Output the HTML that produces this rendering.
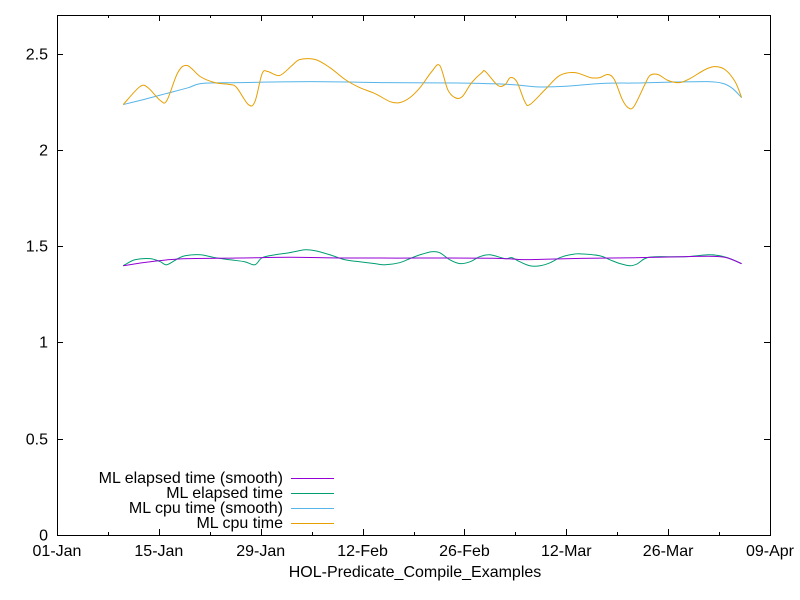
<!DOCTYPE html>
<html><head><meta charset="utf-8"><style>
body{margin:0;background:#fff}
svg{display:block;font-family:"Liberation Sans",Arial,sans-serif;font-size:16px}
</style></head><body>
<svg id="chart" width="800" height="600" viewBox="0 0 800 600" xmlns="http://www.w3.org/2000/svg">
<rect width="800" height="600" fill="#fff"/>
<g id="axes"></g>
<g id="series"></g>
<g id="legend"></g>
<text x="415" y="577" text-anchor="middle">HOL-Predicate_Compile_Examples</text>
</svg>
<script>
const yTicks=[0,0.5,1,1.5,2,2.5];
const yTickLabels=["0","0.5","1","1.5","2","2.5"];
const xTickDays=[0,14,28,42,56,70,84,98];
const xTickLabels=["01-Jan","15-Jan","29-Jan","12-Feb","26-Feb","12-Mar","26-Mar","09-Apr"];
const seriesNames=["ML elapsed time (smooth)","ML elapsed time","ML cpu time (smooth)","ML cpu time"];
const cpuDays=[9.1,11.4,12.5,14.2,15.1,16.6,17.9,19.7,21.7,23.8,24.7,26.3,27.2,28.2,29.0,30.6,32.3,33.4,35.5,37.5,39.6,41.6,43.7,45.8,47.1,48.5,49.9,51.5,52.6,53.7,54.7,55.7,57.0,58.4,58.9,60.6,61.6,62.3,63.2,64.3,65.0,67.1,69.1,71.2,73.3,74.6,75.7,76.6,77.7,78.5,79.3,80.8,81.5,82.6,84.0,85.6,87.0,89.1,90.4,91.8,93.2,94.1];
const cpuValues=[2.235,2.328,2.323,2.256,2.256,2.401,2.438,2.380,2.349,2.339,2.323,2.235,2.250,2.396,2.406,2.386,2.438,2.469,2.469,2.427,2.365,2.323,2.292,2.250,2.245,2.271,2.323,2.406,2.438,2.313,2.271,2.276,2.349,2.401,2.406,2.334,2.339,2.375,2.354,2.250,2.235,2.313,2.386,2.401,2.375,2.375,2.391,2.365,2.261,2.219,2.225,2.339,2.386,2.391,2.360,2.349,2.370,2.417,2.432,2.417,2.354,2.271];
const cpuSmoothDays=[9.1,12,15,18,20,25,35,45,55,62,66,70,75,80,85,89.5,91.5,92.8,94.1];
const cpuSmoothValues=[2.235,2.262,2.292,2.322,2.345,2.349,2.354,2.349,2.347,2.340,2.327,2.330,2.345,2.347,2.352,2.354,2.345,2.320,2.271];
const elDays=[9.1,10.7,12.8,14.2,15.1,16.6,17.6,19.7,21.7,23.8,25.8,27.2,28.2,30.0,32.0,34.1,35.5,37.5,39.6,41.6,43.7,45.1,47.1,48.5,49.9,51.5,52.6,54.0,55.4,56.8,58.1,59.5,61.6,62.5,63.6,65.0,66.4,67.8,69.1,70.5,71.9,74.6,76.0,77.4,78.8,79.8,80.8,82.2,86.3,89.5,91.1,92.5,94.1];
const elValues=[1.398,1.429,1.435,1.419,1.403,1.435,1.450,1.455,1.440,1.429,1.419,1.403,1.440,1.455,1.466,1.481,1.476,1.455,1.429,1.419,1.409,1.403,1.414,1.435,1.455,1.471,1.466,1.429,1.409,1.419,1.445,1.455,1.435,1.440,1.419,1.398,1.398,1.414,1.440,1.455,1.460,1.450,1.429,1.409,1.398,1.409,1.435,1.445,1.445,1.455,1.450,1.435,1.409];
const elSmoothDays=[9.1,12,15,18,25,32,40,50,60,64,67,72,80,86,90,92,94.1];
const elSmoothValues=[1.398,1.415,1.428,1.435,1.438,1.442,1.438,1.438,1.437,1.430,1.432,1.436,1.440,1.445,1.447,1.440,1.409];

const X0=57,X1=770,Y0=535,Y1=15,DMAX=98,VMAX=2.7;
const xs=d=>X0+(X1-X0)*d/DMAX;
const ys=v=>Y0-(Y0-Y1)*v/VMAX;
const NS="http://www.w3.org/2000/svg";
function mk(tag,attrs,parent){const e=document.createElementNS(NS,tag);for(const k in attrs)e.setAttribute(k,attrs[k]);parent.appendChild(e);return e;}
const axes=document.getElementById('axes');
const frame=mk('rect',{x:X0+0.5,y:Y1+0.5,width:X1-X0,height:Y0-Y1,fill:'none',stroke:'#000','stroke-width':1},axes);


yTicks.forEach((v,i)=>{
  const y=Math.round(ys(v))+0.5;
  const t=mk('path',{d:`M${X0} ${y}h6M${X1} ${y}h-6`,stroke:'#000'},axes);
  
  
  const l=mk('text',{x:X0-9,y:y+5,'text-anchor':'end'},axes);l.textContent=yTickLabels[i];
  
  
});
for(let d=0;d<=DMAX;d+=7){
  const x=Math.round(xs(d))+0.5;const major=d%14===0;const len=major?6:3;
  const t=mk('path',{d:`M${x} ${Y0}v-${len}M${x} ${Y1}v${len}`,stroke:'#000'},axes);
  
  
}
xTickDays.forEach((d,i)=>{
  const l=mk('text',{x:xs(d),y:Y0+21,'text-anchor':'middle'},axes);l.textContent=xTickLabels[i];
  
  
});
function smoothPath(dx,vy){
  const p=dx.map((d,i)=>[xs(d),ys(vy[i])]);
  let s=`M${p[0][0]} ${p[0][1]}`;
  for(let i=0;i<p.length-1;i++){
    const a=p[Math.max(0,i-1)],b=p[i],c=p[i+1],e=p[Math.min(p.length-1,i+2)];
    const c1=[b[0]+(c[0]-a[0])/6,b[1]+(c[1]-a[1])/6],c2=[c[0]-(e[0]-b[0])/6,c[1]-(e[1]-b[1])/6];
    s+=`C${c1[0]} ${c1[1]} ${c2[0]} ${c2[1]} ${c[0]} ${c[1]}`;
  }
  return s;
}
const sg=document.getElementById('series');
const colors=["#9400d3","#009e73","#56b4e9","#e69f00"];
const s3=mk('path',{d:smoothPath(cpuSmoothDays,cpuSmoothValues),fill:'none',stroke:colors[2],'stroke-width':1},sg);


const s4=mk('path',{d:smoothPath(cpuDays,cpuValues),fill:'none',stroke:colors[3],'stroke-width':1},sg);


const s2=mk('path',{d:smoothPath(elDays,elValues),fill:'none',stroke:colors[1],'stroke-width':1},sg);


const s1=mk('path',{d:smoothPath(elSmoothDays,elSmoothValues),fill:'none',stroke:colors[0],'stroke-width':1},sg);


const lg=document.getElementById('legend');
seriesNames.forEach((n,i)=>{
  const y=478+i*15;
  const t=mk('text',{x:283,y:y+5,'text-anchor':'end'},lg);t.textContent=n;
  
  
  const l=mk('path',{d:`M291 ${y+0.5}H334`,stroke:colors[i]},lg);
  
  
});
</script>
</body></html>
